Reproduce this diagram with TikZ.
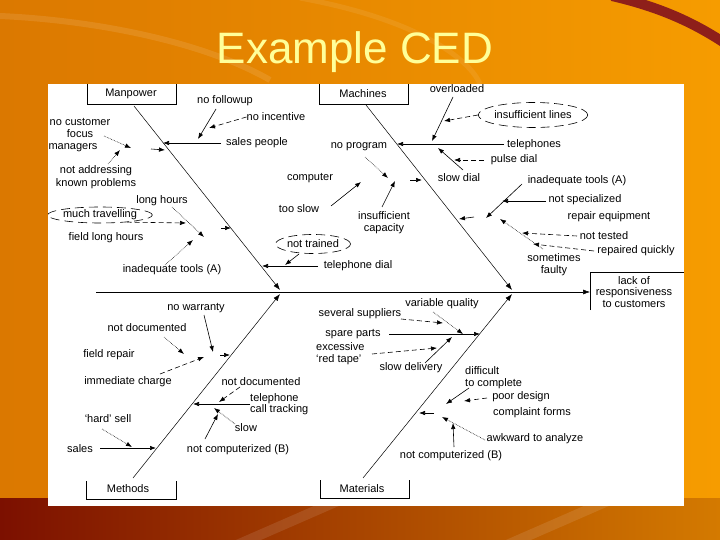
\documentclass[tikz,border=0pt]{standalone}
\usepackage{fontspec}
\setmainfont{Liberation Sans}
\usetikzlibrary{arrows.meta,shapes.geometric}
\definecolor{bgA}{HTML}{DB7800}
\definecolor{bgB}{HTML}{F69C00}
\definecolor{bandL}{HTML}{7C1000}
\definecolor{bandR}{HTML}{D47A00}
\definecolor{arcred}{HTML}{8E1F1A}
\definecolor{titley}{HTML}{FFFF99}
\definecolor{titlesh}{HTML}{9A5200}
\begin{document}
\begin{tikzpicture}[x=1pt,y=-1pt,
  lbl/.style={font=\fontsize{11}{11.5}\selectfont, inner sep=0pt, text=black},
  ln/.style={line width=0.6pt, black},
  arr/.style={ln, -{Latex[length=6pt,width=4.5pt]}},
  darr/.style={arr, dash pattern=on 5pt off 3pt},
  oarr/.style={arr, densely dotted},
  bone/.style={line width=0.5pt, black, -{Latex[length=7pt,width=5pt]}},
  ell/.style={draw, ellipse, line width=0.6pt, dash pattern=on 9pt off 5pt, inner sep=0pt}
]
\useasboundingbox (0,0) rectangle (720,540);
% background
\shade[left color=bgA, right color=bgB] (0,0) rectangle (720,540);
\shade[left color=bandL, right color=bandR] (0,498) rectangle (720,540);
\draw[white, opacity=0.10, line width=10pt] (230,548) -- (340,500);
\draw[white, opacity=0.10, line width=10pt] (500,548) -- (610,500);
\draw[white, opacity=0.10, line width=6pt] (0,16) .. controls (90,20) and (200,40) .. (270,80);
\draw[white, opacity=0.08, line width=5pt] (300,-2) .. controls (420,20) and (470,60) .. (480,84);
\draw[arcred, line width=10pt] (612,-4) .. controls (655,6) and (690,20) .. (726,44);
% white panel
\fill[white] (48,84) rectangle (684,506);
% title
\node[text=titley, font=\fontsize{44}{44}\selectfont] (title) at (355,52) {Example CED};

% category boxes
\draw[ln] (87,84) -- (87,104) -- (176,104) -- (176,84);
\node[lbl] (mp) at (131,94) {Manpower};
\draw[ln] (319,84) -- (319,104) -- (408,104) -- (408,84);
\node[lbl] (mc) at (363,94) {Machines};
\draw[ln] (86,481) -- (86,499) -- (176,499) -- (176,481);
\node[lbl] (me) at (128,489) {Methods};
\draw[ln] (320,480) -- (320,498) -- (409,498) -- (409,480);
\node[lbl] (ma) at (362,489) {Materials};
% effect box
\draw[ln] (590,310) -- (590,272) -- (684,272);
\node[lbl, align=center] (eff) at (634,292) {lack of\\responsiveness\\to customers};

% spine and main bones
\coordinate (sp0) at (96,292); \coordinate (sp1) at (590,292);
\draw[bone] (sp0) -- (sp1);
\coordinate (m1s) at (134,106); \coordinate (m1e) at (280,290);
\coordinate (m2s) at (366,105); \coordinate (m2e) at (512,290);
\coordinate (m3s) at (133,478); \coordinate (m3e) at (280,294);
\coordinate (m4s) at (363,478); \coordinate (m4e) at (512,294);
\draw[bone] (m1s) -- (m1e);
\draw[bone] (m2s) -- (m2e);
\draw[bone] (m3s) -- (m3e);
\draw[bone] (m4s) -- (m4e);

% ---------- Manpower labels
\node[lbl] (nfu) at (225,101) {no followup};
\node[lbl] (ninc) at (276,117) {no incentive};
\node[lbl] (spp) at (257,143) {sales people};
\node[lbl, align=center] (ncf) at (80,128) {no customer\\focus};
\node[lbl] (mgr) at (73,148) {managers};
\node[lbl, align=center, font=\fontsize{11}{13}\selectfont] (nak) at (96,177.5) {not addressing\\known problems};
\node[lbl] (lh) at (162,201) {long hours};
\node[lbl, ell, minimum width=99pt, minimum height=16pt] (mt) at (100,215) {much travelling};
\node[lbl] (flh) at (106,238) {field long hours};
\node[lbl] (itA) at (172,270) {inadequate tools (A)};
\node[lbl] (tdl) at (358,266) {telephone dial};
\node[lbl, ell, minimum width=75pt, minimum height=19pt] (ntr) at (313,244) {not trained};
% ---------- Machines labels
\node[lbl] (cmp) at (310,178) {computer};
\node[lbl] (tsl) at (299,209) {too slow};
\node[lbl] (npg) at (359,147) {no program};
\node[lbl, align=center] (ic) at (384,222.5) {insufficient\\capacity};
\node[lbl] (ovl) at (457,89) {overloaded};
\node[lbl, ell, minimum width=97pt, minimum height=25pt] (isl) at (533,115) {insufficient lines};
\node[lbl] (tph) at (534,145) {telephones};
\node[lbl] (pdl) at (514,160) {pulse dial};
\node[lbl] (sdl) at (459,178) {slow dial};
\node[lbl] (itB) at (577,181) {inadequate tools (A)};
\node[lbl] (nsp) at (585,200) {not specialized};
\node[lbl] (req) at (609,217) {repair equipment};
\node[lbl] (nts) at (604,236) {not tested};
\node[lbl] (rqk) at (636,251) {repaired quickly};
\node[lbl, align=center] (sf) at (554,264.5) {sometimes\\faulty};
% ---------- Methods labels
\node[lbl] (nw) at (196,308) {no warranty};
\node[lbl] (nd1) at (147,328) {not documented};
\node[lbl] (fr) at (109,355) {field repair};
\node[lbl] (imc) at (128,382) {immediate charge};
\node[lbl] (nd2) at (261,382) {not documented};
\node[lbl, align=left, anchor=west] (tct) at (250,404) {telephone\\call tracking};
\node[lbl] (slw) at (246,428) {slow};
\node[lbl] (ncB1) at (238,450) {not computerized (B)};
\node[lbl] (hs) at (108,419) {`hard' sell};
\node[lbl] (sls) at (80,449) {sales};
% ---------- Materials labels
\node[lbl] (vq) at (442,304) {variable quality};
\node[lbl] (ssu) at (360,314) {several suppliers};
\node[lbl] (spa) at (353,334) {spare parts};
\node[lbl, align=left, anchor=west] (ert) at (316,353.5) {excessive\\`red tape'};
\node[lbl] (sdv) at (411,368) {slow delivery};
\node[lbl, align=left, anchor=west] (dtc) at (465,377.5) {difficult\\to complete};
\node[lbl] (pds) at (521,397) {poor design};
\node[lbl] (cfm) at (532,413) {complaint forms};
\node[lbl] (awa) at (535,439) {awkward to analyze};
\node[lbl] (ncB2) at (451,456) {not computerized (B)};

% ---------- Manpower connectors
\coordinate (a1s) at (221,143); \coordinate (a1e) at (163,143);
\draw[arr] (a1s) -- (a1e);
\coordinate (a2s) at (216,109); \coordinate (a2e) at (198,139);
\draw[arr] (a2s) -- (a2e);
\coordinate (a3e) at (209,128);
\draw[darr] (ninc.west) -- (a3e);
\coordinate (a4s) at (104,136); \coordinate (a4e) at (131,148);
\draw[oarr] (a4s) -- (a4e);
\coordinate (a5s) at (151,149); \coordinate (a5e) at (165,150);
\draw[arr] (a5s) -- (a5e);
\coordinate (a6s) at (108,164); \coordinate (a6e) at (120,150);
\draw[oarr] (a6s) -- (a6e);
\coordinate (a7s) at (172,207); \coordinate (a7e) at (204,237);
\draw[oarr] (a7s) -- (a7e);
\coordinate (a8e) at (186,223);
\draw[darr] (mt.-15) -- (a8e);
\coordinate (a9s) at (165,265); \coordinate (a9e) at (193,240);
\draw[oarr] (a9s) -- (a9e);
\coordinate (a10s) at (221,228); \coordinate (a10e) at (231,228);
\draw[arr] (a10s) -- (a10e);
\coordinate (a11s) at (318,266); \coordinate (a11e) at (262,266);
\draw[arr] (a11s) -- (a11e);
\coordinate (a12s) at (299,254); \coordinate (a12e) at (285,265);
\draw[arr] (a12s) -- (a12e);
% ---------- Machines connectors
\coordinate (b1s) at (331,206); \coordinate (b1e) at (361,182);
\draw[arr] (b1s) -- (b1e);
\coordinate (b2s) at (365,157); \coordinate (b2e) at (388,178);
\draw[oarr] (b2s) -- (b2e);
\coordinate (b3s) at (382,207); \coordinate (b3e) at (395,181);
\draw[arr] (b3s) -- (b3e);
\coordinate (b4s) at (410,180); \coordinate (b4e) at (422,180);
\draw[arr] (b4s) -- (b4e);
\coordinate (b5s) at (504,144); \coordinate (b5e) at (397,144);
\draw[arr] (b5s) -- (b5e);
\coordinate (b6s) at (453,97); \coordinate (b6e) at (432,141);
\draw[arr] (b6s) -- (b6e);
\coordinate (b7e) at (444,121);
\draw[darr] (isl.west) -- (b7e);
\coordinate (b8s) at (484,160); \coordinate (b8e) at (454,160);
\draw[darr] (b8s) -- (b8e);
\coordinate (b9s) at (463,170); \coordinate (b9e) at (438,148);
\draw[arr] (b9s) -- (b9e);
\coordinate (b10s) at (522,184); \coordinate (b10e) at (486,218);
\draw[arr] (b10s) -- (b10e);
\coordinate (b11s) at (546,201); \coordinate (b11e) at (502,201);
\draw[arr] (b11s) -- (b11e);
\coordinate (b12s) at (474,217); \coordinate (b12e) at (459,219);
\draw[arr] (b12s) -- (b12e);
\coordinate (b13s) at (543,249); \coordinate (b13e) at (500,219);
\draw[oarr] (b13s) -- (b13e);
\coordinate (b14s) at (577,236); \coordinate (b14e) at (522,233);
\draw[darr] (b14s) -- (b14e);
\coordinate (b15s) at (594,251); \coordinate (b15e) at (533,244);
\draw[darr] (b15s) -- (b15e);
% ---------- Methods connectors
\coordinate (c1s) at (204,315); \coordinate (c1e) at (213,352);
\draw[arr] (c1s) -- (c1e);
\coordinate (c2s) at (164,337); \coordinate (c2e) at (184,354);
\draw[oarr] (c2s) -- (c2e);
\coordinate (c3s) at (160,374); \coordinate (c3e) at (204,357);
\draw[darr] (c3s) -- (c3e);
\coordinate (c4s) at (220,355); \coordinate (c4e) at (230,355);
\draw[arr] (c4s) -- (c4e);
\coordinate (c5s) at (240,387); \coordinate (c5e) at (219,402);
\draw[darr] (c5s) -- (c5e);
\coordinate (c6s) at (250,404); \coordinate (c6e) at (193,404);
\draw[arr] (c6s) -- (c6e);
\coordinate (c7s) at (235,424); \coordinate (c7e) at (214,408);
\draw[oarr] (c7s) -- (c7e);
\coordinate (c8s) at (205,439); \coordinate (c8e) at (218,414);
\draw[arr] (c8s) -- (c8e);
\coordinate (c9s) at (102,429); \coordinate (c9e) at (132,447);
\draw[oarr] (c9s) -- (c9e);
\coordinate (c10s) at (100,448); \coordinate (c10e) at (156,448);
\draw[arr] (c10s) -- (c10e);
% ---------- Materials connectors
\coordinate (d1s) at (433,312); \coordinate (d1e) at (463,334);
\draw[oarr] (d1s) -- (d1e);
\coordinate (d2s) at (401,319); \coordinate (d2e) at (443,323);
\draw[darr] (d2s) -- (d2e);
\coordinate (d3s) at (389,334); \coordinate (d3e) at (480,334);
\draw[arr] (d3s) -- (d3e);
\coordinate (d4s) at (372,354); \coordinate (d4e) at (437,348);
\draw[darr] (d4s) -- (d4e);
\coordinate (d5s) at (425,363); \coordinate (d5e) at (452,337);
\draw[arr] (d5s) -- (d5e);
\coordinate (d6s) at (469,388); \coordinate (d6e) at (446,404);
\draw[arr] (d6s) -- (d6e);
\coordinate (d7s) at (487,398); \coordinate (d7e) at (464,401);
\draw[darr] (d7s) -- (d7e);
\coordinate (d8s) at (434,413); \coordinate (d8e) at (419,413);
\draw[arr] (d8s) -- (d8e);
\coordinate (d9s) at (485,440); \coordinate (d9e) at (442,417);
\draw[oarr] (d9s) -- (d9e);
\coordinate (d10s) at (454,447); \coordinate (d10e) at (453,423);
\draw[arr] (d10s) -- (d10e);
\end{tikzpicture}
\end{document}
